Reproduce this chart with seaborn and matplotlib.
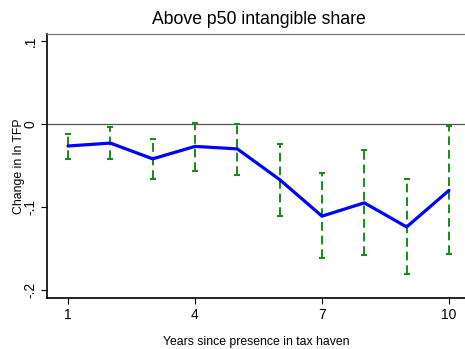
import matplotlib
matplotlib.use("Agg")
import matplotlib.pyplot as plt
import seaborn as sns
import pandas as pd
import numpy as np

years = [1, 2, 3, 4, 5, 6, 7, 8, 9, 10]
coef = [-0.0265, -0.023, -0.042, -0.027, -0.030, -0.067, -0.111, -0.095, -0.124, -0.080]
ci_hi = [-0.012, -0.004, -0.018, 0.0016, 0.0, -0.024, -0.059, -0.031, -0.066, -0.002]
ci_lo = [-0.042, -0.042, -0.066, -0.057, -0.061, -0.111, -0.162, -0.158, -0.181, -0.157]
yticks = [0.1, 0.0, -0.1, -0.2]
ytick_labels = [".1", "0", "-.1", "-.2"]
xticks = [1, 4, 7, 10]

sns.set_style("white")
plt.rcParams['font.family'] = ['Liberation Sans', 'DejaVu Sans']
plt.rcParams['text.color'] = 'black'
plt.rcParams['axes.labelcolor'] = 'black'
plt.rcParams['xtick.color'] = 'black'
plt.rcParams['ytick.color'] = 'black'

df = pd.DataFrame({"year": years, "coef": coef, "lo": ci_lo, "hi": ci_hi})

fig = plt.figure(figsize=(4.65, 3.49), dpi=100)
ax = fig.add_axes([47/465, 1-298/349, 1-47/465, (298-34)/349])

ax.axhline(0, color="#555555", lw=0.9, zorder=1)

for _, r in df.iterrows():
    ax.vlines(r.year, r.lo, r.hi, colors="#1a8a1a", linestyles=(0, (4.5, 2.5)), lw=1.4, zorder=2)
    ax.hlines([r.lo, r.hi], r.year - 0.07, r.year + 0.07, colors="#1a8a1a", lw=1.5, zorder=2)

sns.lineplot(data=df, x="year", y="coef", color="#0000ff", lw=2.3, ax=ax, zorder=3)

ax.set_xlim(1 + (47 - 68) / 42.33, 1 + (465 - 68) / 42.33)
ax.set_ylim(-0.2096, 0.1084)
ax.set_xticks(xticks)
ax.set_xticklabels([str(t) for t in xticks], fontsize=10)
ax.set_yticks(yticks)
ax.set_yticklabels(ytick_labels, fontsize=10, rotation=90, va="center")
ax.tick_params(axis="both", direction="out", length=4, width=0.8, color="black", pad=3, bottom=True, left=True)

ax.spines["right"].set_visible(False)
ax.spines["top"].set_color("#777777")
ax.spines["top"].set_linewidth(0.9)
for s in ["left", "bottom"]:
    ax.spines[s].set_color("black")
    ax.spines[s].set_linewidth(1.2)

ax.set_xlabel("Years since presence in tax haven", fontsize=8.8, labelpad=10)
ax.set_ylabel("Change in ln TFP", fontsize=8.8, labelpad=-1)
ax.set_title("Above p50 intangible share", fontsize=12.7, pad=7, x=0.507)

fig.savefig("out.png", dpi=100)
